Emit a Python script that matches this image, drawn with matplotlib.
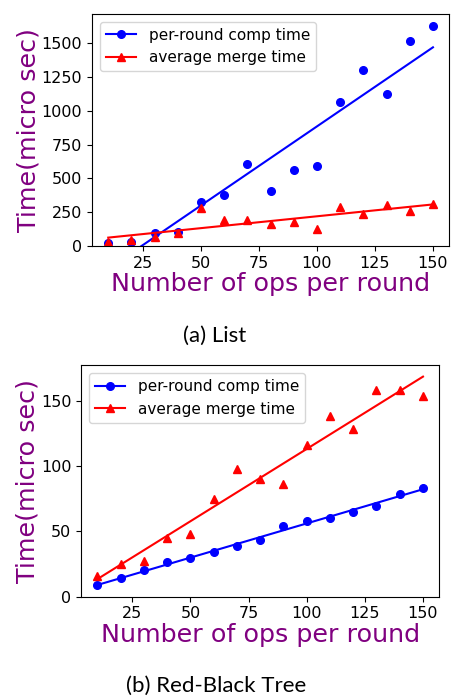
import numpy as np
from matplotlib import pyplot as plt
from matplotlib.lines import Line2D

# Values
ops = [10, 20, 30, 40, 50, 60, 70, 80, 90, 100, 110, 120, 130, 140, 150]

list_comp = [20, 27, 94, 106, 328, 377, 609, 410, 563, 590, 1063, 1303, 1125, 1515, 1628]
list_merge = [30, 44, 69, 94, 279, 192, 192, 163, 180, 128, 289, 237, 306, 259, 311]

rb_comp = [8.6, 14, 20.6, 26.4, 29.2, 34.3, 38.4, 43.2, 54.2, 57.7, 60.5, 64.6, 69.7, 78.3, 83.4]
rb_merge = [16, 25.2, 27, 44.5, 47.8, 74.8, 97.9, 90.3, 86.4, 116.2, 138, 128.4, 158.4, 158.4, 153.6]

labels = ['per-round comp time', 'average merge time']
captions = ['(a) List', '(b) Red-Black Tree']
purple = '#800080'


def draw(ax, comp, merge, ylim):
    x = np.array(ops)
    for y, color, marker in ((comp, 'b', 'o'), (merge, 'r', '^')):
        ax.plot(x, y, color=color, marker=marker, linestyle='none', markersize=5.5)
        k, b = np.polyfit(x, y, 1)
        ax.plot(x, k * x + b, color=color, linewidth=1.5)
    ax.set_xlim(3, 157)
    ax.set_ylim(*ylim)
    ax.set_xticks([25, 50, 75, 100, 125, 150])
    ax.tick_params(labelsize=11.5)
    ax.set_xlabel('Number of ops per round', color=purple, fontsize=18.3, labelpad=1)
    ax.set_ylabel('Time(micro sec)', color=purple, fontsize=18.3, labelpad=1)
    handles = [Line2D([], [], color='b', marker='o', markersize=5.5),
               Line2D([], [], color='r', marker='^', markersize=5.5)]
    ax.legend(handles, labels, loc='upper left', fontsize=11)


def main():
    fig = plt.figure(figsize=(4.51, 6.97), dpi=100)
    ax1 = fig.add_axes([0.204, 0.647, 0.792, 0.333])
    ax2 = fig.add_axes([0.180, 0.144, 0.794, 0.332])

    draw(ax1, list_comp, list_merge, (0, 1715))
    ax1.set_yticks([0, 250, 500, 750, 1000, 1250, 1500])
    draw(ax2, rb_comp, rb_merge, (0, 177))
    ax2.set_yticks([0, 50, 100, 150])

    fig.text(0.475, 1 - 336 / 697, captions[0], ha='center', va='center',
             fontsize=16, family=['Lato', 'DejaVu Sans'])
    fig.text(0.479, 1 - 686 / 697, captions[1], ha='center', va='center',
             fontsize=16, family=['Lato', 'DejaVu Sans'])

    fig.savefig('out.png', dpi=100)


if __name__ == '__main__':
    main()
